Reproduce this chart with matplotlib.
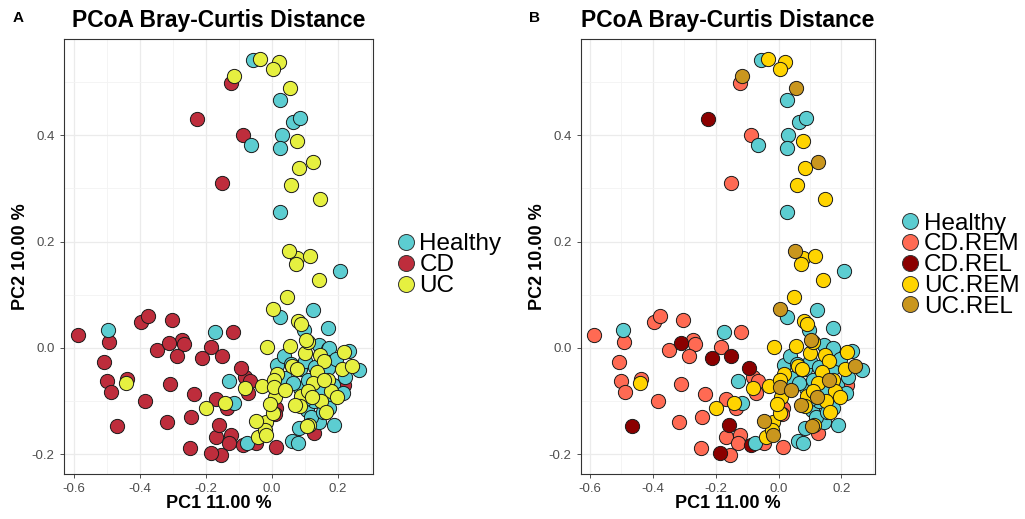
import matplotlib.pyplot as plt
from matplotlib.lines import Line2D
from matplotlib.ticker import MultipleLocator

# PCoA coordinates, one pair of lists per subgroup
healthy_x = [-0.057, 0.026, 0.066, 0.086, 0.031, 0.026, -0.064, 0.026, 0.207, 0.124,
             0.026, 0.172, 0.097, -0.495, -0.173, -0.128, -0.115, -0.074, 0.061, 0.079,
             0.083, 0.144, 0.190, 0.265, 0.235, 0.144, 0.172, 0.041, 0.016, 0.036,
             0.137, 0.172, 0.187, 0.222, 0.162, 0.175, 0.107, 0.118, 0.086, 0.066,
             0.085, 0.100, 0.145, 0.128, 0.155, 0.148, 0.100, 0.060, 0.175, 0.195,
             0.110, 0.130, 0.215]
healthy_y = [0.541, 0.466, 0.425, 0.432, 0.401, 0.377, 0.382, 0.255, 0.145, 0.071,
             0.059, 0.037, 0.034, 0.033, 0.031, -0.063, -0.104, -0.179, -0.174, -0.179,
             -0.150, -0.140, -0.145, -0.041, -0.005, 0.006, -0.002, -0.057, -0.032, -0.016,
             -0.054, -0.038, -0.070, -0.054, -0.098, -0.112, -0.117, -0.130, -0.075, -0.065,
             -0.040, -0.025, -0.075, -0.100, -0.120, -0.085, -0.095, -0.030, 0.000, -0.020,
             -0.060, -0.035, -0.085]

cd_rem_x = [-0.123, -0.088, -0.150, -0.588, -0.492, -0.396, -0.376, -0.303, -0.348, -0.271,
            -0.266, -0.286, -0.183, -0.118, -0.508, -0.500, -0.488, -0.437, -0.385, -0.309,
            -0.235, -0.316, -0.244, -0.168, -0.135, -0.080, -0.072, -0.065, -0.168, -0.124,
            -0.128, -0.246, -0.153, -0.046, 0.014, 0.014, 0.127, 0.218, 0.010]
cd_rem_y = [0.499, 0.400, 0.310, 0.024, 0.011, 0.048, 0.060, 0.053, -0.003, 0.015,
            0.008, -0.015, 0.001, 0.030, -0.026, -0.062, -0.082, -0.059, -0.099, -0.068,
            -0.087, -0.140, -0.129, -0.095, -0.113, -0.054, -0.085, -0.063, -0.167, -0.164,
            -0.179, -0.189, -0.201, -0.179, -0.187, -0.113, -0.160, -0.070, -0.125]

cd_rel_x = [-0.225, -0.311, -0.212, -0.150, -0.093, -0.467, -0.158, -0.185, -0.087]
cd_rel_y = [0.431, 0.010, -0.019, -0.015, -0.038, -0.147, -0.145, -0.197, -0.182]

uc_rem_x = [-0.034, 0.021, 0.004, 0.077, 0.084, 0.059, 0.147, 0.078, 0.073, 0.117,
            0.142, 0.048, 0.080, 0.090, -0.014, 0.056, 0.218, -0.442, -0.198, -0.142,
            -0.082, -0.029, 0.016, 0.009, 0.006, 0.061, 0.076, 0.147, 0.160, 0.137,
            0.125, 0.100, 0.172, 0.180, 0.197, 0.150, 0.090, 0.110, 0.165, 0.112,
            0.085, -0.040, -0.017, 0.004, -0.020, -0.005, 0.110, 0.212]
uc_rem_y = [0.544, 0.537, 0.525, 0.390, 0.338, 0.306, 0.280, 0.169, 0.158, 0.173,
            0.128, 0.095, 0.050, 0.045, 0.001, 0.003, -0.008, -0.065, -0.113, -0.104,
            -0.075, -0.071, -0.048, -0.092, -0.060, -0.033, -0.040, -0.013, -0.025, -0.045,
            -0.065, -0.010, -0.060, -0.080, -0.092, -0.100, -0.090, -0.080, -0.120, -0.145,
            -0.110, -0.167, -0.140, -0.123, -0.155, -0.105, 0.012, -0.040]

uc_rel_x = [-0.115, 0.056, 0.125, 0.052, 0.004, 0.104, 0.243, 0.006, 0.041, 0.122,
            0.072, 0.108, -0.046, -0.018, 0.160]
uc_rel_y = [0.512, 0.489, 0.349, 0.183, 0.073, 0.015, -0.034, -0.073, -0.079, -0.092,
            -0.107, -0.147, -0.137, -0.164, -0.060]

teal = '#5CCDD1'
colors_a = {'Healthy': teal, 'CD': '#BE2D3C', 'UC': '#E6F040'}
colors_b = {'Healthy': teal, 'CD.REM': '#FF6A53', 'CD.REL': '#8B0000',
            'UC.REM': '#FFD400', 'UC.REL': '#C9961E'}

groups_a = {
    'Healthy': (healthy_x, healthy_y),
    'CD': (cd_rem_x + cd_rel_x, cd_rem_y + cd_rel_y),
    'UC': (uc_rem_x + uc_rel_x, uc_rem_y + uc_rel_y),
}
groups_b = {
    'Healthy': (healthy_x, healthy_y),
    'CD.REM': (cd_rem_x, cd_rem_y),
    'CD.REL': (cd_rel_x, cd_rel_y),
    'UC.REM': (uc_rem_x, uc_rem_y),
    'UC.REL': (uc_rel_x, uc_rel_y),
}
draw_order_a = ['CD', 'Healthy', 'UC']
draw_order_b = ['CD.REM', 'CD.REL', 'Healthy', 'UC.REM', 'UC.REL']

plt.rcParams['font.family'] = ['Liberation Sans', 'DejaVu Sans']

fig = plt.figure(figsize=(10.25, 5.19), dpi=100)
ax_a = fig.add_axes([0.0621, 0.0867, 0.3018, 0.838])
ax_b = fig.add_axes([0.5665, 0.0867, 0.2871, 0.838])


def draw_panel(ax, groups, colors, order, letter, letter_x, legend_size, legend_x):
    for g in order:
        xs, ys = groups[g]
        ax.scatter(xs, ys, s=105, c=colors[g], edgecolors='#1a1a1a',
                   linewidths=0.7, zorder=3)
    ax.set_xlim(-0.63, 0.307)
    ax.set_ylim(-0.237, 0.581)
    ax.xaxis.set_major_locator(MultipleLocator(0.2))
    ax.xaxis.set_minor_locator(MultipleLocator(0.1))
    ax.yaxis.set_major_locator(MultipleLocator(0.2))
    ax.yaxis.set_minor_locator(MultipleLocator(0.1))
    ax.grid(which='major', color='#EBEBEB', linewidth=0.9, zorder=0)
    ax.grid(which='minor', color='#F3F3F3', linewidth=0.6, zorder=0)
    ax.set_axisbelow(True)
    ax.tick_params(which='major', labelsize=9.5, labelcolor='#4D4D4D',
                   color='#333333', length=3, width=0.6)
    ax.tick_params(which='minor', length=0)
    ax.xaxis.set_major_formatter(lambda v, p: f'{v:.1f}'.replace('-0.0', '0.0'))
    ax.yaxis.set_major_formatter(lambda v, p: f'{v:.1f}'.replace('-0.0', '0.0'))
    for sp in ax.spines.values():
        sp.set_color('#333333')
        sp.set_linewidth(0.8)
    ax.set_xlabel('PC1 11.00 %', fontsize=13, fontweight='bold', labelpad=0)
    ax.set_ylabel('PC2 10.00 %', fontsize=13, fontweight='bold', labelpad=2)
    ax.set_title('PCoA Bray-Curtis Distance', fontsize=16.5, fontweight='bold', pad=9)
    handles = [Line2D([], [], marker='o', linestyle='', markersize=11.5,
                      markerfacecolor=colors[g], markeredgecolor='#333333',
                      markeredgewidth=0.7, label=g) for g in colors]
    ax.legend(handles=handles, loc='center left', bbox_to_anchor=(legend_x, 0.48),
              frameon=False, fontsize=legend_size, handletextpad=0.1,
              labelspacing=-0.05, borderaxespad=0, handlelength=0.9)
    fig.text(letter_x, 1 - 18 / 519, letter, fontsize=11, fontweight='bold',
             ha='center', va='center')


draw_panel(ax_a, groups_a, colors_a, draw_order_a, 'A', 18 / 1025, 17.5, 1.04)
draw_panel(ax_b, groups_b, colors_b, draw_order_b, 'B', 535 / 1025, 17.5, 1.05)

fig.savefig('out.png', dpi=100)
